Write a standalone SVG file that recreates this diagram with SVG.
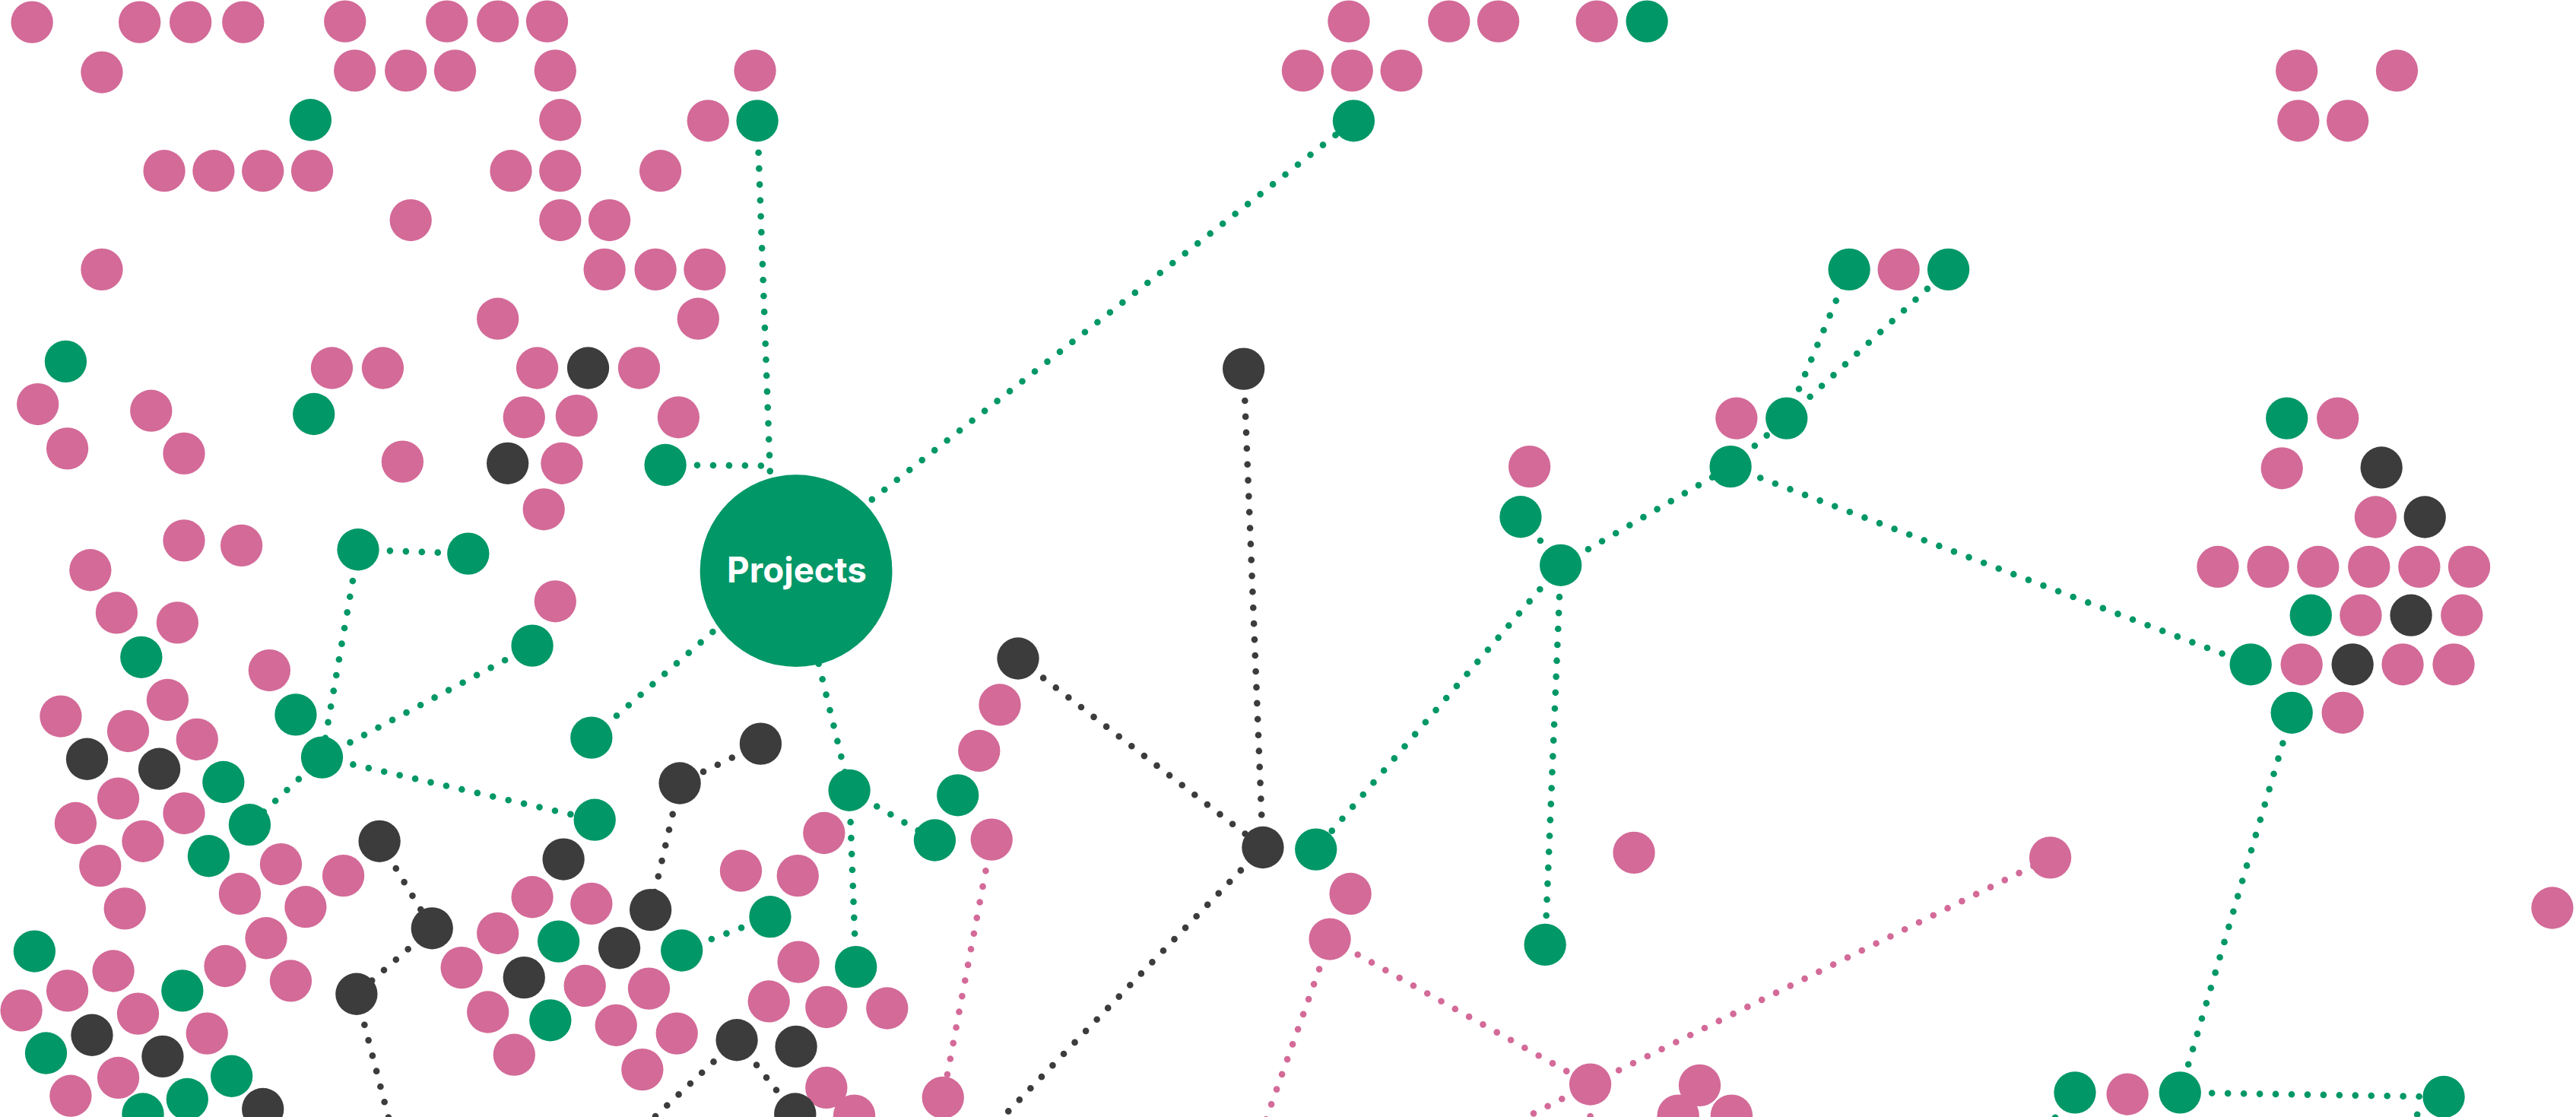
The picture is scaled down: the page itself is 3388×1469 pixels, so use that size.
<svg xmlns="http://www.w3.org/2000/svg" width="3388" height="1469" viewBox="0 0 3388 1469">
<style>
.p{fill:#D36A98}.g{fill:#029767}.d{fill:#3C3C3C}
.c{fill:none;stroke-width:4;stroke-linecap:round;stroke-dasharray:0 9.7}
.cg{stroke:#029767}.cp{stroke:#D36A98}.cd{stroke:#3C3C3C}
.t{font-family:Inter,Roboto,"Liberation Sans",sans-serif;font-weight:700;font-size:21.3px;fill:#FFFFFF;text-anchor:middle}
</style>
<rect width="3388" height="1469" fill="#FFFFFF"/>
<g transform="scale(2.160714)">
<g id="connectors">
<line class="c cg" x1="461" y1="73.5" x2="468.8" y2="289"/>
<line class="c cg" x1="405" y1="283" x2="468.8" y2="283.5"/>
<line class="c cg" x1="485" y1="340" x2="824" y2="73.5"/>
<line class="c cg" x1="485" y1="340" x2="360" y2="449"/>
<line class="c cg" x1="484.6" y1="347.4" x2="517" y2="481"/>
<line class="c cg" x1="517" y1="481" x2="569" y2="511.4"/>
<line class="c cg" x1="517" y1="481" x2="521" y2="588.5"/>
<line class="c cg" x1="415" y1="578.5" x2="468.8" y2="558"/>
<line class="c cg" x1="218" y1="334.5" x2="285" y2="337"/>
<line class="c cg" x1="218" y1="334.5" x2="196" y2="461"/>
<line class="c cg" x1="196" y1="461" x2="324" y2="393"/>
<line class="c cg" x1="196" y1="461" x2="362" y2="499"/>
<line class="c cg" x1="196" y1="461" x2="152" y2="502"/>
<line class="c cg" x1="950" y1="344" x2="801" y2="517"/>
<line class="c cg" x1="950" y1="344" x2="940.5" y2="575"/>
<line class="c cg" x1="950" y1="344" x2="925.6" y2="314.6"/>
<line class="c cg" x1="950" y1="344" x2="1053.4" y2="284"/>
<line class="c cg" x1="1053.4" y1="284" x2="1087.5" y2="254.6"/>
<line class="c cg" x1="1087.5" y1="254.6" x2="1125.6" y2="164"/>
<line class="c cg" x1="1087.5" y1="254.6" x2="1186" y2="164"/>
<line class="c cg" x1="1053.4" y1="284" x2="1370" y2="404.4"/>
<line class="c cg" x1="1395" y1="433.8" x2="1327" y2="665"/>
<line class="c cg" x1="1327" y1="665" x2="1487.5" y2="667.6"/>
<line class="c cg" x1="1487.5" y1="667.6" x2="1439" y2="700"/>
<line class="c cg" x1="1263" y1="665" x2="1235.5" y2="700"/>
<line class="c cd" x1="757" y1="224.5" x2="768.7" y2="515.8"/>
<line class="c cd" x1="619.7" y1="400.8" x2="768.7" y2="515.8"/>
<line class="c cd" x1="768.7" y1="515.8" x2="591" y2="700"/>
<line class="c cd" x1="463" y1="452.7" x2="413.8" y2="476.7"/>
<line class="c cd" x1="413.8" y1="476.7" x2="396" y2="553.8"/>
<line class="c cd" x1="448.5" y1="633" x2="484" y2="678"/>
<line class="c cd" x1="448.5" y1="633" x2="377" y2="700"/>
<line class="c cd" x1="231" y1="512" x2="263" y2="565"/>
<line class="c cd" x1="263" y1="565" x2="217" y2="605"/>
<line class="c cd" x1="217" y1="605" x2="241.6" y2="700"/>
<line class="c cp" x1="603.6" y1="511" x2="574" y2="668"/>
<line class="c cp" x1="809.5" y1="571.6" x2="968" y2="660"/>
<line class="c cp" x1="968" y1="660" x2="1248" y2="522"/>
<line class="c cp" x1="809.5" y1="571.6" x2="764" y2="700"/>
<line class="c cp" x1="968" y1="660" x2="890" y2="700"/>
<line class="c cp" x1="968" y1="660" x2="968" y2="700"/>
</g>
<g id="n-projects"><circle class="g" cx="484.6" cy="347.4" r="58.5"/><text class="t" x="485" y="354.5" textLength="85" lengthAdjust="spacingAndGlyphs">Projects</text></g>
<g id="n1" class="p"><circle cx="19.5" cy="13.5" r="12.8"/></g>
<g id="n2" class="p"><circle cx="85" cy="13.5" r="12.8"/></g>
<g id="n3" class="p"><circle cx="116" cy="13.5" r="12.8"/></g>
<g id="n4" class="p"><circle cx="148" cy="13.5" r="12.8"/></g>
<g id="n5" class="p"><circle cx="210" cy="13" r="12.8"/></g>
<g id="n6" class="p"><circle cx="272" cy="13" r="12.8"/></g>
<g id="n7" class="p"><circle cx="303" cy="13" r="12.8"/></g>
<g id="n8" class="p"><circle cx="333" cy="13" r="12.8"/></g>
<g id="n9" class="p"><circle cx="62" cy="44" r="12.8"/></g>
<g id="n10" class="p"><circle cx="216" cy="43" r="12.8"/></g>
<g id="n11" class="p"><circle cx="247" cy="43" r="12.8"/></g>
<g id="n12" class="p"><circle cx="277" cy="43" r="12.8"/></g>
<g id="n13" class="p"><circle cx="338" cy="43" r="12.8"/></g>
<g id="n14" class="g"><circle cx="189" cy="73" r="12.8"/></g>
<g id="n15" class="p"><circle cx="341" cy="73" r="12.8"/></g>
<g id="n16" class="p"><circle cx="100" cy="104" r="12.8"/></g>
<g id="n17" class="p"><circle cx="130" cy="104" r="12.8"/></g>
<g id="n18" class="p"><circle cx="160" cy="104" r="12.8"/></g>
<g id="n19" class="p"><circle cx="190" cy="104" r="12.8"/></g>
<g id="n20" class="p"><circle cx="311" cy="104" r="12.8"/></g>
<g id="n21" class="p"><circle cx="341" cy="104" r="12.8"/></g>
<g id="n22" class="p"><circle cx="402" cy="104" r="12.8"/></g>
<g id="n23" class="p"><circle cx="250" cy="134" r="12.8"/></g>
<g id="n24" class="p"><circle cx="341" cy="134" r="12.8"/></g>
<g id="n25" class="p"><circle cx="371" cy="134" r="12.8"/></g>
<g id="n26" class="p"><circle cx="62" cy="164" r="12.8"/></g>
<g id="n27" class="p"><circle cx="368" cy="164" r="12.8"/></g>
<g id="n28" class="p"><circle cx="399" cy="164" r="12.8"/></g>
<g id="n29" class="p"><circle cx="429" cy="164" r="12.8"/></g>
<g id="n30" class="p"><circle cx="303" cy="194" r="12.8"/></g>
<g id="n31" class="p"><circle cx="425" cy="194" r="12.8"/></g>
<g id="n32" class="g"><circle cx="40" cy="220" r="12.8"/></g>
<g id="n33" class="p"><circle cx="202" cy="224" r="12.8"/></g>
<g id="n34" class="p"><circle cx="233" cy="224" r="12.8"/></g>
<g id="n35" class="p"><circle cx="327" cy="224" r="12.8"/></g>
<g id="n36" class="d"><circle cx="358" cy="224" r="12.8"/></g>
<g id="n37" class="p"><circle cx="389" cy="224" r="12.8"/></g>
<g id="n38" class="p"><circle cx="23" cy="246" r="12.8"/></g>
<g id="n39" class="p"><circle cx="92" cy="250" r="12.8"/></g>
<g id="n40" class="g"><circle cx="191" cy="252" r="12.8"/></g>
<g id="n41" class="p"><circle cx="319" cy="254" r="12.8"/></g>
<g id="n42" class="p"><circle cx="351" cy="253" r="12.8"/></g>
<g id="n43" class="p"><circle cx="413" cy="254" r="12.8"/></g>
<g id="n44" class="p"><circle cx="41" cy="273" r="12.8"/></g>
<g id="n45" class="p"><circle cx="112" cy="276" r="12.8"/></g>
<g id="n46" class="p"><circle cx="245" cy="281" r="12.8"/></g>
<g id="n47" class="d"><circle cx="309" cy="282" r="12.8"/></g>
<g id="n48" class="p"><circle cx="342" cy="282" r="12.8"/></g>
<g id="n49" class="g"><circle cx="405" cy="283" r="12.8"/></g>
<g id="n50" class="p"><circle cx="331" cy="310" r="12.8"/></g>
<g id="n51" class="p"><circle cx="112" cy="329" r="12.8"/></g>
<g id="n52" class="p"><circle cx="147" cy="332" r="12.8"/></g>
<g id="n53" class="g"><circle cx="218" cy="334.5" r="12.8"/></g>
<g id="n54" class="g"><circle cx="285" cy="337" r="12.8"/></g>
<g id="n55" class="p"><circle cx="459.6" cy="43" r="12.8"/></g>
<g id="n56" class="p"><circle cx="431" cy="73.5" r="12.8"/></g>
<g id="n57" class="g"><circle cx="461" cy="73.5" r="12.8"/></g>
<g id="n58" class="d"><circle cx="757" cy="224.5" r="12.8"/></g>
<g id="n59" class="p"><circle cx="55" cy="347" r="12.8"/></g>
<g id="n60" class="p"><circle cx="71" cy="373" r="12.8"/></g>
<g id="n61" class="p"><circle cx="108" cy="379" r="12.8"/></g>
<g id="n62" class="p"><circle cx="338" cy="366" r="12.8"/></g>
<g id="n63" class="g"><circle cx="86" cy="400" r="12.8"/></g>
<g id="n64" class="g"><circle cx="324" cy="393" r="12.8"/></g>
<g id="n65" class="p"><circle cx="164" cy="408" r="12.8"/></g>
<g id="n66" class="p"><circle cx="102" cy="426" r="12.8"/></g>
<g id="n67" class="p"><circle cx="37" cy="436" r="12.8"/></g>
<g id="n68" class="g"><circle cx="180" cy="435" r="12.8"/></g>
<g id="n69" class="p"><circle cx="78" cy="445" r="12.8"/></g>
<g id="n70" class="p"><circle cx="120" cy="450" r="12.8"/></g>
<g id="n71" class="g"><circle cx="360" cy="449" r="12.8"/></g>
<g id="n72" class="d"><circle cx="53" cy="462" r="12.8"/></g>
<g id="n73" class="d"><circle cx="97" cy="468" r="12.8"/></g>
<g id="n74" class="g"><circle cx="196" cy="461" r="12.8"/></g>
<g id="n75" class="g"><circle cx="136" cy="476" r="12.8"/></g>
<g id="n76" class="p"><circle cx="72" cy="486" r="12.8"/></g>
<g id="n77" class="p"><circle cx="46" cy="501" r="12.8"/></g>
<g id="n78" class="p"><circle cx="112" cy="495" r="12.8"/></g>
<g id="n79" class="g"><circle cx="152" cy="502" r="12.8"/></g>
<g id="n80" class="g"><circle cx="362" cy="499" r="12.8"/></g>
<g id="n81" class="p"><circle cx="87" cy="512" r="12.8"/></g>
<g id="n82" class="g"><circle cx="127" cy="521" r="12.8"/></g>
<g id="n83" class="d"><circle cx="231" cy="512" r="12.8"/></g>
<g id="n84" class="d"><circle cx="343" cy="523" r="12.8"/></g>
<g id="n85" class="p"><circle cx="61" cy="527" r="12.8"/></g>
<g id="n86" class="p"><circle cx="171" cy="526" r="12.8"/></g>
<g id="n87" class="p"><circle cx="209" cy="533" r="12.8"/></g>
<g id="n88" class="p"><circle cx="146" cy="544" r="12.8"/></g>
<g id="n89" class="p"><circle cx="186" cy="552" r="12.8"/></g>
<g id="n90" class="p"><circle cx="76" cy="553" r="12.8"/></g>
<g id="n91" class="p"><circle cx="324" cy="546" r="12.8"/></g>
<g id="n92" class="p"><circle cx="360" cy="550" r="12.8"/></g>
<g id="n93" class="d"><circle cx="396" cy="553.8" r="12.8"/></g>
<g id="n94" class="d"><circle cx="263" cy="565" r="12.8"/></g>
<g id="n95" class="p"><circle cx="162" cy="571" r="12.8"/></g>
<g id="n96" class="p"><circle cx="303" cy="568" r="12.8"/></g>
<g id="n97" class="g"><circle cx="340" cy="573" r="12.8"/></g>
<g id="n98" class="d"><circle cx="377" cy="577" r="12.8"/></g>
<g id="n99" class="g"><circle cx="21" cy="579" r="12.8"/></g>
<g id="n100" class="p"><circle cx="69" cy="591" r="12.8"/></g>
<g id="n101" class="p"><circle cx="137" cy="588" r="12.8"/></g>
<g id="n102" class="p"><circle cx="177" cy="597" r="12.8"/></g>
<g id="n103" class="p"><circle cx="281" cy="589" r="12.8"/></g>
<g id="n104" class="d"><circle cx="319" cy="595" r="12.8"/></g>
<g id="n105" class="p"><circle cx="356" cy="600" r="12.8"/></g>
<g id="n106" class="p"><circle cx="395" cy="601.7" r="12.8"/></g>
<g id="n107" class="d"><circle cx="217" cy="605" r="12.8"/></g>
<g id="n108" class="p"><circle cx="41" cy="603" r="12.8"/></g>
<g id="n109" class="p"><circle cx="13" cy="615" r="12.8"/></g>
<g id="n110" class="g"><circle cx="111" cy="603" r="12.8"/></g>
<g id="n111" class="p"><circle cx="84" cy="617" r="12.8"/></g>
<g id="n112" class="p"><circle cx="126" cy="629" r="12.8"/></g>
<g id="n113" class="p"><circle cx="297" cy="616" r="12.8"/></g>
<g id="n114" class="g"><circle cx="335" cy="621" r="12.8"/></g>
<g id="n115" class="p"><circle cx="375" cy="624" r="12.8"/></g>
<g id="n116" class="p"><circle cx="313" cy="642" r="12.8"/></g>
<g id="n117" class="p"><circle cx="391" cy="651" r="12.8"/></g>
<g id="n118" class="d"><circle cx="56" cy="630" r="12.8"/></g>
<g id="n119" class="g"><circle cx="28" cy="641" r="12.8"/></g>
<g id="n120" class="d"><circle cx="99" cy="643" r="12.8"/></g>
<g id="n121" class="p"><circle cx="72" cy="656" r="12.8"/></g>
<g id="n122" class="g"><circle cx="141" cy="655" r="12.8"/></g>
<g id="n123" class="p"><circle cx="43" cy="667" r="12.8"/></g>
<g id="n124" class="g"><circle cx="114" cy="669" r="12.8"/></g>
<g id="n125" class="g"><circle cx="87" cy="678" r="12.8"/></g>
<g id="n126" class="d"><circle cx="160" cy="675" r="12.8"/></g>
<g id="n127" class="d"><circle cx="619.7" cy="400.8" r="12.8"/></g>
<g id="n128" class="p"><circle cx="608.6" cy="429" r="12.8"/></g>
<g id="n129" class="p"><circle cx="596" cy="457" r="12.8"/></g>
<g id="n130" class="g"><circle cx="583" cy="484" r="12.8"/></g>
<g id="n131" class="g"><circle cx="569" cy="511.4" r="12.8"/></g>
<g id="n132" class="p"><circle cx="603.6" cy="511" r="12.8"/></g>
<g id="n133" class="d"><circle cx="463" cy="452.7" r="12.8"/></g>
<g id="n134" class="d"><circle cx="413.8" cy="476.7" r="12.8"/></g>
<g id="n135" class="g"><circle cx="517" cy="481" r="12.8"/></g>
<g id="n136" class="p"><circle cx="501.6" cy="507" r="12.8"/></g>
<g id="n137" class="p"><circle cx="451" cy="530" r="12.8"/></g>
<g id="n138" class="p"><circle cx="485.6" cy="533" r="12.8"/></g>
<g id="n139" class="g"><circle cx="468.8" cy="558" r="12.8"/></g>
<g id="n140" class="g"><circle cx="415" cy="578.5" r="12.8"/></g>
<g id="n141" class="p"><circle cx="486" cy="585.5" r="12.8"/></g>
<g id="n142" class="g"><circle cx="521" cy="588.5" r="12.8"/></g>
<g id="n143" class="p"><circle cx="468" cy="609.5" r="12.8"/></g>
<g id="n144" class="p"><circle cx="503" cy="613" r="12.8"/></g>
<g id="n145" class="p"><circle cx="540" cy="613.7" r="12.8"/></g>
<g id="n146" class="p"><circle cx="412" cy="629" r="12.8"/></g>
<g id="n147" class="d"><circle cx="448.5" cy="633" r="12.8"/></g>
<g id="n148" class="d"><circle cx="484.6" cy="637" r="12.8"/></g>
<g id="n149" class="p"><circle cx="503" cy="662" r="12.8"/></g>
<g id="n150" class="d"><circle cx="484" cy="678" r="12.8"/></g>
<g id="n151" class="p"><circle cx="520" cy="679" r="12.8"/></g>
<g id="n152" class="p"><circle cx="574" cy="668" r="12.8"/></g>
<g id="n153" class="d"><circle cx="768.7" cy="515.8" r="12.8"/></g>
<g id="n154" class="p"><circle cx="821" cy="13" r="12.8"/></g>
<g id="n155" class="p"><circle cx="882" cy="13" r="12.8"/></g>
<g id="n156" class="p"><circle cx="912" cy="13" r="12.8"/></g>
<g id="n157" class="p"><circle cx="972" cy="13" r="12.8"/></g>
<g id="n158" class="g"><circle cx="1002.5" cy="13" r="12.8"/></g>
<g id="n159" class="p"><circle cx="793" cy="43" r="12.8"/></g>
<g id="n160" class="p"><circle cx="823" cy="43" r="12.8"/></g>
<g id="n161" class="p"><circle cx="853" cy="43" r="12.8"/></g>
<g id="n162" class="g"><circle cx="824" cy="73.5" r="12.8"/></g>
<g id="n163" class="g"><circle cx="1125.6" cy="164" r="12.8"/></g>
<g id="n164" class="p"><circle cx="1155.7" cy="164" r="12.8"/></g>
<g id="n165" class="g"><circle cx="1186" cy="164" r="12.8"/></g>
<g id="n166" class="p"><circle cx="1057" cy="254.6" r="12.8"/></g>
<g id="n167" class="g"><circle cx="1087.5" cy="254.6" r="12.8"/></g>
<g id="n168" class="p"><circle cx="931" cy="284" r="12.8"/></g>
<g id="n169" class="g"><circle cx="1053.4" cy="284" r="12.8"/></g>
<g id="n170" class="g"><circle cx="925.6" cy="314.6" r="12.8"/></g>
<g id="n171" class="g"><circle cx="950" cy="344" r="12.8"/></g>
<g id="n172" class="g"><circle cx="801" cy="517" r="12.8"/></g>
<g id="n173" class="p"><circle cx="822" cy="544" r="12.8"/></g>
<g id="n174" class="p"><circle cx="809.5" cy="571.6" r="12.8"/></g>
<g id="n175" class="g"><circle cx="940.5" cy="575" r="12.8"/></g>
<g id="n176" class="p"><circle cx="994.6" cy="519" r="12.8"/></g>
<g id="n177" class="p"><circle cx="968" cy="660" r="12.8"/></g>
<g id="n178" class="p"><circle cx="1034.6" cy="660.6" r="12.8"/></g>
<g id="n179" class="p"><circle cx="1021.5" cy="679" r="12.8"/></g>
<g id="n180" class="p"><circle cx="1054" cy="679" r="12.8"/></g>
<g id="n181" class="p"><circle cx="1398" cy="43" r="12.8"/></g>
<g id="n182" class="p"><circle cx="1459" cy="43" r="12.8"/></g>
<g id="n183" class="p"><circle cx="1399" cy="73.5" r="12.8"/></g>
<g id="n184" class="p"><circle cx="1429" cy="73.5" r="12.8"/></g>
<g id="n185" class="g"><circle cx="1392" cy="254.6" r="12.8"/></g>
<g id="n186" class="p"><circle cx="1423" cy="254.6" r="12.8"/></g>
<g id="n187" class="p"><circle cx="1389" cy="285" r="12.8"/></g>
<g id="n188" class="d"><circle cx="1449.6" cy="284.6" r="12.8"/></g>
<g id="n189" class="p"><circle cx="1446" cy="314.7" r="12.8"/></g>
<g id="n190" class="d"><circle cx="1476" cy="314.7" r="12.8"/></g>
<g id="n191" class="p"><circle cx="1350" cy="345" r="12.8"/></g>
<g id="n192" class="p"><circle cx="1380.6" cy="345" r="12.8"/></g>
<g id="n193" class="p"><circle cx="1411" cy="345" r="12.8"/></g>
<g id="n194" class="p"><circle cx="1442" cy="345" r="12.8"/></g>
<g id="n195" class="p"><circle cx="1472.6" cy="345" r="12.8"/></g>
<g id="n196" class="p"><circle cx="1503" cy="345" r="12.8"/></g>
<g id="n197" class="g"><circle cx="1406.6" cy="374.5" r="12.8"/></g>
<g id="n198" class="p"><circle cx="1437" cy="374.5" r="12.8"/></g>
<g id="n199" class="d"><circle cx="1467.6" cy="374.5" r="12.8"/></g>
<g id="n200" class="p"><circle cx="1498.5" cy="374.5" r="12.8"/></g>
<g id="n201" class="g"><circle cx="1370" cy="404.4" r="12.8"/></g>
<g id="n202" class="p"><circle cx="1401" cy="404.4" r="12.8"/></g>
<g id="n203" class="d"><circle cx="1432" cy="404.4" r="12.8"/></g>
<g id="n204" class="p"><circle cx="1462.5" cy="404.4" r="12.8"/></g>
<g id="n205" class="p"><circle cx="1493.5" cy="404.4" r="12.8"/></g>
<g id="n206" class="g"><circle cx="1395" cy="433.8" r="12.8"/></g>
<g id="n207" class="p"><circle cx="1426" cy="433.8" r="12.8"/></g>
<g id="n208" class="p"><circle cx="1248" cy="522" r="12.8"/></g>
<g id="n209" class="p"><circle cx="1553.6" cy="552.6" r="12.8"/></g>
<g id="n210" class="g"><circle cx="1263" cy="665" r="12.8"/></g>
<g id="n211" class="p"><circle cx="1295" cy="666" r="12.8"/></g>
<g id="n212" class="g"><circle cx="1327" cy="665" r="12.8"/></g>
<g id="n213" class="g"><circle cx="1487.5" cy="667.6" r="12.8"/></g>
</g>
</svg>
